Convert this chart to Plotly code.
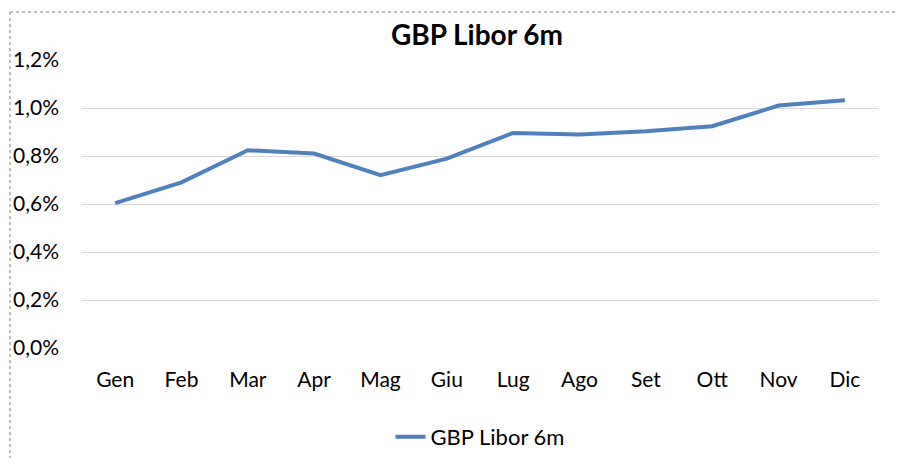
import plotly.graph_objects as go

months = ["Gen", "Feb", "Mar", "Apr", "Mag", "Giu", "Lug", "Ago", "Set", "Ott", "Nov", "Dic"]
libor_6m = [0.604, 0.690, 0.824, 0.810, 0.720, 0.789, 0.896, 0.890, 0.903, 0.924, 1.010, 1.032]
y_ticks = [0.0, 0.2, 0.4, 0.6, 0.8, 1.0, 1.2]
y_tick_labels = [f"{v:.1f}%".replace(".", ",") for v in y_ticks]
series_name = "GBP Libor 6m"

# page has an 8px body margin; work in page coordinates and convert
OFF = 8
W, H = 903 - 2 * OFF, 466 - 2 * OFF
L, R, T, B = 82 - OFF, W - (878 - OFF), 60 - OFF, H - (348 - OFF)
pw, ph = W - L - R, H - T - B

def px_x(x):  # page px -> paper
    return (x - OFF - L) / pw

def px_y(y):
    return (H - B - (y - OFF)) / ph

font_family = "Lato, 'Open Sans', sans-serif"
border = dict(color="#7F7F7F", width=1, dash="dot")

fig = go.Figure()
fig.add_trace(go.Scatter(
    x=months, y=libor_6m, mode="lines", name=series_name,
    line=dict(color="#4F81BD", width=4),
))

fig.update_layout(
    width=W, height=H,
    margin=dict(l=L, r=R, t=T, b=B, autoexpand=False),
    paper_bgcolor="white", plot_bgcolor="white",
    font=dict(family=font_family, size=21, color="#000000"),
    title=dict(text="<b>GBP Libor 6m</b>", x=(477 - OFF) / W, xanchor="center",
               y=1 - (35 - OFF) / H, yanchor="middle", font=dict(size=28, color="#000000")),
    showlegend=True,
    legend=dict(orientation="h", x=0.5, xanchor="center", y=px_y(437), yanchor="middle",
                font=dict(size=22), bgcolor="rgba(0,0,0,0)"),
    xaxis=dict(type="category", range=[-0.5, 11.5], showgrid=False, zeroline=False,
               showline=False, ticks="", ticklabelstandoff=17, tickfont=dict(size=21),
               automargin=False),
    yaxis=dict(range=[0, 1.2], tickvals=y_ticks, ticktext=y_tick_labels,
               showgrid=True, gridcolor="#D9D9D9", gridwidth=1.3, zeroline=False,
               showline=False, ticks="", ticklabelstandoff=22, tickfont=dict(size=21),
               automargin=False),
    shapes=[
        dict(type="line", xref="paper", yref="paper",
             x0=px_x(10), x1=px_x(960), y0=px_y(12), y1=px_y(12), line=border),
        dict(type="line", xref="paper", yref="paper",
             x0=px_x(10), x1=px_x(10), y0=px_y(12), y1=px_y(520), line=border),
    ],
)

fig.write_html("out.html")
